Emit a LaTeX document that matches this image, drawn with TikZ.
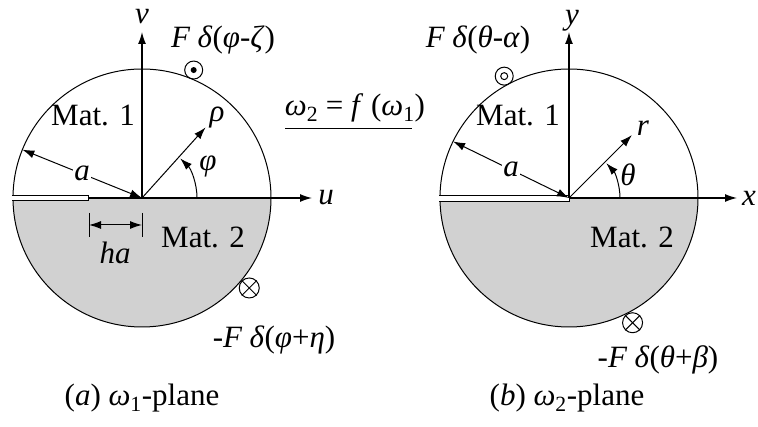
\documentclass[tikz,border=0pt]{standalone}
\usepackage{fontspec}
\setmainfont{Liberation Serif}
\usetikzlibrary{arrows.meta,calc}
\definecolor{matgray}{gray}{0.82}

\begin{document}
\begin{tikzpicture}[x=1pt,y=1pt,
    every node/.style={font=\fontsize{31}{36}\selectfont, inner sep=1pt},
    axis/.style={line width=1.3pt,-{Latex[length=12pt,width=8pt]}},
    ray/.style={line width=1pt,-{Latex[length=12pt,width=8pt]}},
    rad/.style={line width=1pt,{Latex[length=12pt,width=8pt]}-{Latex[length=12pt,width=8pt]}},
    rim/.style={line width=1pt},
    srcup/.style={draw,circle,line width=1pt,minimum size=18pt,inner sep=0pt},
    srcdown/.style={draw,circle,line width=1pt,minimum size=20pt,inner sep=0pt}]
  \useasboundingbox (0,0) rectangle (758,427);

  % (a) omega_1-plane
  \coordinate (O1) at (142,229);
  \fill [matgray] (13,229) arc [start angle=180, end angle=360, radius=129] -- cycle;
  \draw [rim] (O1) circle [radius=129];
  \fill [white] (10,226) rectangle (88,231);
  \draw [rim] (12,231) -- (88,231) -- (88,226) -- (12,226);
  \coordinate (V1) at (142,395);
  \coordinate (U0) at (88,229);
  \coordinate (U1) at (312,229);
  \draw [axis] (O1) -- (V1);
  \draw [axis] (U0) -- (U1);
  \node (vlab) at (142,410) {\textit{v}};
  \node (ulab) at (326,229) {\textit{u}};
  \coordinate (A1) at ($(O1)+(158:129)$);
  \draw [rad] (A1) -- (O1) node [pos=0.5, fill=white] (alab1) {\textit{a}};
  \coordinate (R1) at ($(O1)+(48:95)$);
  \draw [ray] (O1) -- (R1);
  \node (rholab) at (217,309) {\textit{ρ}};
  \draw [ray] ($(O1)+(55,0)$) arc [start angle=0, end angle=46, radius=55];
  \node (philab) at (208,261) {\textit{φ}};
  \node (mat11) at (93,312) {Mat. 1};
  \node (mat21) at (203,190) {Mat. 2};
  \coordinate (H0t) at (89,214);
  \coordinate (H0b) at (89,190);
  \coordinate (H1t) at (142,214);
  \coordinate (H1b) at (142,190);
  \draw [line width=1pt] (H0t) -- (H0b);
  \draw [line width=1pt] (H1t) -- (H1b);
  \draw [rad] ($(H0t)!0.5!(H0b)$) -- ($(H1t)!0.5!(H1b)$);
  \node (halab) at (115,174) {\textit{ha}};
  \node [srcup] (dot1) at ($(O1)+(68:138)$) {};
  \fill (dot1) circle [radius=3];
  \node (Fup1) at (223,387) {\textit{F δ}(\textit{φ}-\textit{ζ})};
  \node [srcdown] (crs1) at ($(O1)+(-40:140)$) {};
  \draw [line width=1pt] (crs1.north east) -- (crs1.south west);
  \draw [line width=1pt] (crs1.north west) -- (crs1.south east);
  \node (Fdn1) at (274,87) {-\textit{F δ}(\textit{φ}+\textit{η})};
  \node (capa) at (142,29) {(\textit{a}) \textit{ω}\textsubscript{1}-plane};

  % mapping
  \node (mapping) at (355,319) {\textit{ω}\textsubscript{2} = \textit{f} (\textit{ω}\textsubscript{1})};
  \coordinate (M0) at (285,298);
  \coordinate (M1) at (412,298);
  \draw [line width=1pt] (M0) -- (M1);

  % (b) omega_2-plane
  \coordinate (O2) at (569,229);
  \fill [matgray] (440,229) arc [start angle=180, end angle=360, radius=129] -- cycle;
  \draw [rim] (O2) circle [radius=129];
  \fill [white] (437,225) rectangle (569,231);
  \draw [rim] (439,231) -- (569,231) -- (569,225) -- (439,225);
  \coordinate (Y2) at (569,395);
  \coordinate (X2) at (737,229);
  \draw [axis] (O2) -- (Y2);
  \draw [axis] (O2) -- (X2);
  \node (ylab) at (572,406) {\textit{y}};
  \node (xlab) at (749,229) {\textit{x}};
  \coordinate (A2) at ($(O2)+(154:129)$);
  \draw [rad] (A2) -- (O2) node [pos=0.5, fill=white] (alab2) {\textit{a}};
  \coordinate (R2) at ($(O2)+(45:89)$);
  \draw [ray] (O2) -- (R2);
  \node (rlab) at (643,299) {\textit{r}};
  \draw [ray] ($(O2)+(51,0)$) arc [start angle=0, end angle=43, radius=51];
  \node (thetalab) at (628,252) {\textit{θ}};
  \node (mat12) at (518,312) {Mat. 1};
  \node (mat22) at (632,190) {Mat. 2};
  \node [srcup] (dot2) at ($(O2)+(118:138)$) {};
  \draw [line width=1pt] (dot2) circle [radius=3.5];
  \node (Fup2) at (478,387) {\textit{F δ}(\textit{θ}-\textit{α})};
  \node [srcdown] (crs2) at ($(O2)+(-63:140)$) {};
  \draw [line width=1pt] (crs2.north east) -- (crs2.south west);
  \draw [line width=1pt] (crs2.north west) -- (crs2.south east);
  \node (Fdn2) at (658,67) {-\textit{F δ}(\textit{θ}+\textit{β})};
  \node (capb) at (567,29) {(\textit{b}) \textit{ω}\textsubscript{2}-plane};
\end{tikzpicture}
\end{document}
